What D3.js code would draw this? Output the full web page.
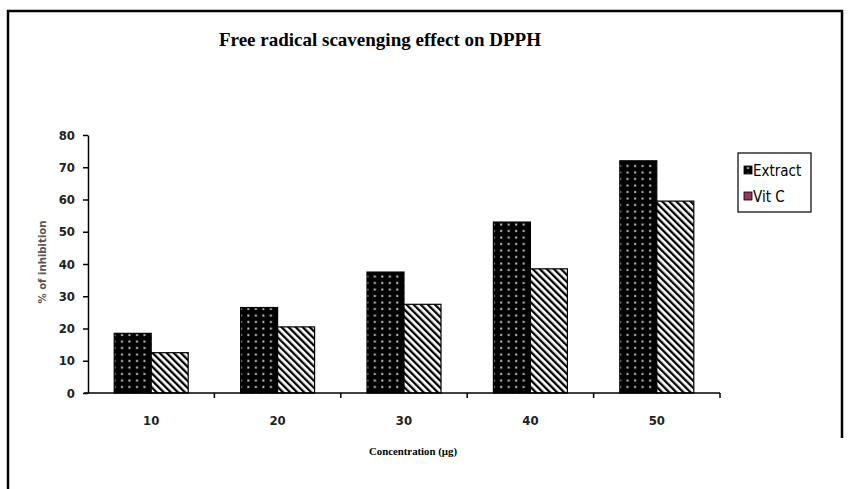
<!DOCTYPE html>
<html>
<head>
<meta charset="utf-8">
<script src="https://cdn.jsdelivr.net/npm/d3@7"></script>
<style>
  body { margin: 0; background: #fff; }
  svg { display: block; }
</style>
</head>
<body>
<svg id="chart"></svg>
<script>
const width = 850, height = 489;

// data
const categories = ['10', '20', '30', '40', '50'];
const seriesNames = ['Extract', 'Vit C'];
const extractValues = [18.5, 26.5, 37.5, 53, 72];
const vitCValues = [12.5, 20.5, 27.5, 38.5, 59.5];
const yTicks = [0, 10, 20, 30, 40, 50, 60, 70, 80];

const rows = categories.map((c, i) => ({ cat: c, values: [extractValues[i], vitCValues[i]] }));

const svg = d3.select('#chart').attr('width', width).attr('height', height);

// patterns
const defs = svg.append('defs');
const dots = defs.append('pattern')
    .attr('id', 'dots')
    .attr('patternUnits', 'userSpaceOnUse')
    .attr('width', 7.5).attr('height', 6.5);
dots.append('rect').attr('width', 7.5).attr('height', 6.5).attr('fill', '#000');
dots.append('rect').attr('x', 3).attr('y', 2.5).attr('width', 2).attr('height', 2).attr('fill', '#ccc');

const stripes = defs.append('pattern')
    .attr('id', 'stripes')
    .attr('patternUnits', 'userSpaceOnUse')
    .attr('width', 5).attr('height', 5)
    .attr('patternTransform', 'rotate(-45)');
stripes.append('rect').attr('width', 5).attr('height', 5).attr('fill', '#fff');
stripes.append('rect').attr('x', 0).attr('width', 2.3).attr('height', 5).attr('fill', '#000');

const fills = ['url(#dots)', 'url(#stripes)'];

// outer frame (bottom is cut off in the original)
svg.append('path')
    .attr('d', 'M8,489 L8,11 L842,11 L842,438')
    .attr('fill', 'none')
    .attr('stroke', '#000')
    .attr('stroke-width', 2.5);

const x0 = d3.scaleBand().domain(categories).range([88, 720]).padding(0);
const x1 = d3.scaleBand().domain(seriesNames).range([0, x0.bandwidth()]).paddingInner(0).paddingOuter(0.708);
const y = d3.scaleLinear().domain([0, 80]).range([393, 135]);

// bars
const groups = svg.append('g')
    .selectAll('g')
    .data(rows)
    .enter()
    .append('g')
    .attr('transform', (d) => 'translate(' + x0(d.cat) + ',0)');

groups.selectAll('rect')
    .data((d) => d.values.map((v, i) => ({ key: seriesNames[i], value: v, i: i })))
    .enter()
    .append('rect')
    .attr('x', (d) => x1(d.key))
    .attr('y', (d) => y(d.value))
    .attr('width', x1.bandwidth())
    .attr('height', (d) => y(0) - y(d.value))
    .attr('fill', (d) => fills[d.i])
    .attr('stroke', '#000')
    .attr('stroke-width', 1.2);

// y axis
const yAxis = svg.append('g')
    .attr('transform', 'translate(88,0)')
    .call(d3.axisLeft(y).tickValues(yTicks).tickSize(5).tickSizeOuter(0).tickPadding(8));
yAxis.select('.domain').attr('stroke', '#000').attr('stroke-width', 1.5);
yAxis.selectAll('.tick line').attr('stroke', '#000').attr('stroke-width', 1.5);
yAxis.selectAll('.tick text')
    .attr('font-family', 'DejaVu Sans Condensed, DejaVu Sans')
    .attr('font-stretch', 'condensed')
    .attr('font-weight', 'bold')
    .attr('font-size', 13)
    .attr('fill', '#222');

// x axis: ticks sit between categories
const xAxis = svg.append('g').attr('transform', 'translate(0,393)');
xAxis.append('line')
    .attr('x1', 84).attr('x2', 720)
    .attr('stroke', '#000').attr('stroke-width', 1.5);
xAxis.selectAll('.sep')
    .data(categories.slice(1))
    .enter()
    .append('line')
    .attr('x1', (d) => x0(d)).attr('x2', (d) => x0(d))
    .attr('y1', 0).attr('y2', 5)
    .attr('stroke', '#000').attr('stroke-width', 1.5);
xAxis.append('line')
    .attr('x1', 720).attr('x2', 720).attr('y1', 0).attr('y2', 5)
    .attr('stroke', '#000').attr('stroke-width', 1.5);
xAxis.selectAll('.lab')
    .data(categories)
    .enter()
    .append('text')
    .attr('x', (d) => x0(d) + x0.bandwidth() / 2)
    .attr('y', 32)
    .attr('text-anchor', 'middle')
    .attr('font-family', 'DejaVu Sans Condensed, DejaVu Sans')
    .attr('font-stretch', 'condensed')
    .attr('font-weight', 'bold')
    .attr('font-size', 13)
    .attr('fill', '#222')
    .text((d) => d);

// title
svg.append('text')
    .attr('x', 380)
    .attr('y', 46)
    .attr('text-anchor', 'middle')
    .attr('font-family', 'Liberation Serif')
    .attr('font-weight', 'bold')
    .attr('font-size', 19)
    .attr('textLength', 322)
    .attr('lengthAdjust', 'spacingAndGlyphs')
    .text('Free radical scavenging effect on DPPH');

// axis titles
svg.append('text')
    .attr('transform', 'translate(46,262) rotate(-90)')
    .attr('text-anchor', 'middle')
    .attr('font-family', 'DejaVu Sans Condensed, DejaVu Sans')
    .attr('font-stretch', 'condensed')
    .attr('font-weight', 'bold')
    .attr('font-size', 11)
    .attr('textLength', 83)
    .attr('lengthAdjust', 'spacingAndGlyphs')
    .attr('fill', '#555')
    .text('% of inhibition');

svg.append('text')
    .attr('x', 413)
    .attr('y', 455)
    .attr('text-anchor', 'middle')
    .attr('font-family', 'Liberation Serif')
    .attr('font-weight', 'bold')
    .attr('font-size', 10)
    .attr('textLength', 88)
    .attr('lengthAdjust', 'spacingAndGlyphs')
    .text('Concentration (µg)');

// legend
const legend = svg.append('g').attr('transform', 'translate(738,153)');
legend.append('rect')
    .attr('width', 73).attr('height', 59)
    .attr('fill', '#fff').attr('stroke', '#000').attr('stroke-width', 1.2);
const legendColors = ['url(#dots)', '#993366'];
const item = legend.selectAll('.item')
    .data(seriesNames)
    .enter()
    .append('g')
    .attr('transform', (d, i) => 'translate(6,' + (18 + i * 26) + ')');
item.append('rect')
    .attr('x', 0).attr('y', -5)
    .attr('width', 8).attr('height', 8)
    .attr('fill', (d, i) => legendColors[i])
    .attr('stroke', '#000').attr('stroke-width', 0.8);
item.append('text')
    .attr('x', 9)
    .attr('y', 0)
    .attr('dominant-baseline', 'middle')
    .attr('font-family', 'DejaVu Sans Condensed, DejaVu Sans')
    .attr('font-stretch', 'condensed')
    .attr('font-size', 15)
    .attr('fill', '#000')
    .text((d) => d);
</script>
</body>
</html>
